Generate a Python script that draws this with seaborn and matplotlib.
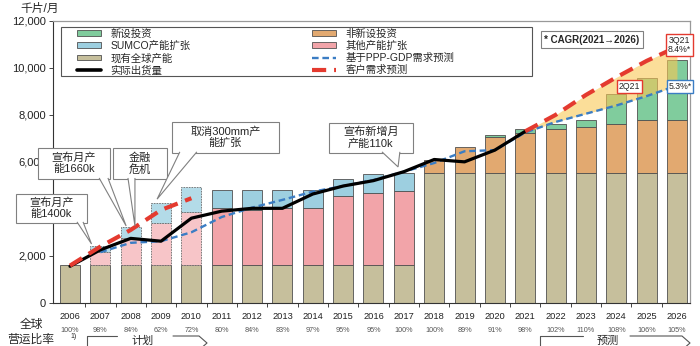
import matplotlib
matplotlib.use("Agg")
import matplotlib.pyplot as plt
from matplotlib.patches import Patch, Rectangle, Polygon
from matplotlib.lines import Line2D
import seaborn as sns

# ---------------- data ----------------
years = list(range(2006, 2027))
existing = [1600] * 12 + [5520] * 9                      # 现有全球产能

exp_years = list(range(2007, 2018))                      # 2007-2010 planned, 2011-2017 actual
other_exp = [570, 1140, 1780, 2280, 2420, 2360, 2420, 2420, 2960, 3090, 3150]   # 其他产能扩张
sumco_exp = [250, 470, 860, 1040, 780, 840, 780, 770, 690, 790, 780]            # SUMCO产能扩张
planned_n = 4

inv_years = list(range(2018, 2027))
non_new = [580, 1120, 1520, 1730, 1890, 1960, 2090, 2260, 2280]                 # 非新设投资
new_years = list(range(2020, 2027))
new_inv = [110, 160, 200, 300, 1260, 1810, 2530]                                # 新设投资

act_years = list(range(2006, 2022))
actual = [1550, 2250, 2740, 2620, 3600, 3900, 4020, 4020, 4630, 4970, 5200, 5580,
          6100, 6000, 6500, 7300]                                               # 实际出货量

ppp_years = list(range(2007, 2027))
ppp = [2150, 2550, 2620, 3000, 3650, 4050, 4380, 4730, 4970, 5230, 5580, 5950,
       6450, 6500, 7250, 7700, 8050, 8400, 8800, 9250]                          # 基于PPP-GDP需求预测

cust_years_a = list(range(2006, 2011))
cust_a = [1580, 2390, 3100, 3950, 4450]
cust_years_b = list(range(2021, 2027))
cust_b = [7300, 8000, 8850, 9600, 10300, 10900]                                 # 客户需求预测

op_ratio = ["100%", "98%", "84%", "62%", "72%", "80%", "84%", "83%", "97%", "95%",
            "95%", "100%", "100%", "89%", "91%", "98%", "102%", "110%", "108%",
            "106%", "105%"]

yticks = [0, 2000, 4000, 6000, 8000, 10000, 12000]
ytick_labels = ["0", "2,000", "4,000", "6,000", "8,000", "10,000", "12,000"]

# ---------------- style ----------------
sns.set_style("ticks")
plt.rcParams["font.family"] = ["Liberation Sans", "Noto Sans CJK SC", "DejaVu Sans"]

C_BEIGE = "#c6bf9c"
C_PINK = "#f2a4a9"
C_PINK_P = "#f7c5c8"
C_BLUE = "#9dcfe0"
C_BLUE_P = "#b3dbe8"
C_ORANGE = "#e2a970"
C_GREEN = "#80cc9d"
C_EDGE = "#505050"

W, H = 700, 346
fig = plt.figure(figsize=(7, 3.46), dpi=100)
ax = fig.add_axes([53 / W, 1 - 302.7 / H, 637 / W, 281.7 / H])


def bars(x, h, bottom, color, ls="-", ec=C_EDGE):
    sns.barplot(x=x, y=h, bottom=bottom, native_scale=True, orient="x", width=0.66,
                color=color, saturation=1, edgecolor=ec, linewidth=0.6,
                linestyle=ls, errorbar=None, ax=ax, zorder=2)


# existing capacity
bars(years, existing, [0] * len(years), C_BEIGE)
# other expansion & SUMCO expansion (planned part dashed, lighter)
base_exp = existing[1:12]
sumco_base = [b + o for b, o in zip(base_exp, other_exp)]
bars(exp_years[:planned_n], other_exp[:planned_n], base_exp[:planned_n], C_PINK_P, ls=(0, (2, 1.2)), ec="#6a6a6a")
bars(exp_years[:planned_n], sumco_exp[:planned_n], sumco_base[:planned_n], C_BLUE_P, ls=(0, (2, 1.2)), ec="#6a6a6a")
bars(exp_years[planned_n:], other_exp[planned_n:], base_exp[planned_n:], C_PINK)
bars(exp_years[planned_n:], sumco_exp[planned_n:], sumco_base[planned_n:], C_BLUE)
# investments
base_inv = existing[12:]
bars(inv_years, non_new, base_inv, C_ORANGE)
new_base = [b + n for b, n in zip(base_inv, non_new)][2:]
bars(new_years, new_inv, new_base, C_GREEN)

# forecast band
ppp_fc = ppp[ppp_years.index(2021):]
ax.fill_between(cust_years_b, ppp_fc, cust_b, color="#f9c855", alpha=0.6, lw=0, zorder=3)

# lines
sns.lineplot(x=ppp_years, y=ppp, color="#3b7dc4", linewidth=1.7, linestyle=(0, (2.8, 1.6)),
             errorbar=None, ax=ax, zorder=4, legend=False)
sns.lineplot(x=act_years, y=actual, color="black", linewidth=2.3, errorbar=None,
             ax=ax, zorder=5, legend=False)
for xs, ys in ((cust_years_a, cust_a), (cust_years_b, cust_b)):
    sns.lineplot(x=xs, y=ys, color="#e43a2f", linewidth=3.0, linestyle=(0, (3.4, 1.9)),
                 errorbar=None, ax=ax, zorder=6, legend=False)

# axes
ax.set_xlim(2005.44, 2026.43)
ax.set_ylim(0, 12000)
ax.set_yticks(yticks)
ax.set_yticklabels(ytick_labels, fontsize=8, color="#222")
# the 4,000 label is covered by a callout box in the original
for lab in ax.get_yticklabels():
    if lab.get_text() == "4,000":
        lab.set_visible(False)
ax.set_xticks(years)
ax.set_xticklabels([str(y) for y in years], fontsize=6.7, color="#222")
ax.set_xticks([y + 0.5 for y in years[:-1]], minor=True)
ax.tick_params(axis="x", which="major", length=0, pad=6.5)
ax.tick_params(axis="x", which="minor", length=3, width=0.7, color="#444", direction="out")
ax.tick_params(axis="y", length=3, width=0.7, color="#444", pad=2)
ax.set_xlabel("")
ax.set_ylabel("")
for s in ("left", "bottom"):
    ax.spines[s].set_color("#333")
    ax.spines[s].set_linewidth(0.8)
for s in ("top", "right"):
    ax.spines[s].set_visible(True)
    ax.spines[s].set_color("#999")
    ax.spines[s].set_linewidth(0.9)

# operating ratio row
trans = ax.get_xaxis_transform()
for y, r in zip(years, op_ratio):
    ax.text(y, -0.097, r, transform=trans, ha="center", va="center", fontsize=5.2,
            color="#555", clip_on=False)

# legend
handles = [
    Patch(facecolor=C_GREEN, edgecolor=C_EDGE, lw=0.6, label="新设投资"),
    Patch(facecolor=C_BLUE, edgecolor=C_EDGE, lw=0.6, label="SUMCO产能扩张"),
    Patch(facecolor=C_BEIGE, edgecolor=C_EDGE, lw=0.6, label="现有全球产能"),
    Line2D([], [], color="black", lw=2.6, label="实际出货量"),
    Patch(facecolor=C_ORANGE, edgecolor=C_EDGE, lw=0.6, label="非新设投资"),
    Patch(facecolor=C_PINK, edgecolor=C_EDGE, lw=0.6, label="其他产能扩张"),
    Line2D([], [], color="#3b7dc4", lw=1.7, ls=(0, (2.8, 1.6)), label="基于PPP-GDP需求预测"),
    Line2D([], [], color="#e43a2f", lw=3.0, ls=(0, (3.4, 1.9)), label="客户需求预测"),
]
ax.legend(handles=handles, ncol=2, loc="upper left", bbox_to_anchor=(77 / W, 1 - 28.5 / H),
          bbox_transform=fig.transFigure, frameon=False, fontsize=7.5, borderpad=0,
          handlelength=2.3, handleheight=0.45, handletextpad=0.9, columnspacing=11.7,
          labelspacing=0.2, borderaxespad=0)
fig.add_artist(Rectangle((61 / W, 1 - 76 / H), (532 - 61) / W, (76 - 27) / H,
                         transform=fig.transFigure, fill=False, ec="#555", lw=0.8))


# callouts
def callout(text, box, base, tip):
    x0, x1, y0, y1 = box
    ax.add_patch(Rectangle((x0, y0), x1 - x0, y1 - y0, facecolor="white", edgecolor="#808080",
                           lw=0.8, zorder=7, clip_on=False))
    eps = 45
    ax.add_patch(Polygon([(base[0], y0 + eps), tip, (base[1], y0 + eps)], closed=False,
                         facecolor="white", edgecolor="#808080", lw=0.8, zorder=7.5, clip_on=False))
    ax.text((x0 + x1) / 2, (y0 + y1) / 2, text, ha="center", va="center", fontsize=8,
            linespacing=1.15, zorder=8, clip_on=False)


callout("宣布月产\n能1400k", (2004.22, 2006.56, 3397, 4633), (2006.23, 2006.43), (2006.71, 2500))
callout("宣布月产\n能1660k", (2004.95, 2007.32, 5269, 6590), (2006.96, 2007.25), (2007.85, 3270))
callout("金融\n危机", (2007.42, 2009.20, 5269, 6590), (2007.91, 2008.14), (2008.14, 3270))
callout("取消300mm产\n能扩张", (2009.36, 2012.88, 6381, 7703), (2009.62, 2010.18), (2008.87, 4412))
callout("宣布新增月\n产能110k", (2014.53, 2017.30, 6381, 7660), (2016.28, 2016.87), (2016.81, 5784))

# forecast labels
ax.text(2023.2, 11198, "* CAGR(2021→2026)", ha="center", va="center", fontsize=7,
        fontweight="bold", zorder=8,
        bbox=dict(boxstyle="square,pad=0.35", fc="white", ec="#808080", lw=0.8))
ax.text(2024.43, 9216, "2Q21", ha="center", va="center", fontsize=6.3, zorder=8,
        bbox=dict(boxstyle="square,pad=0.2", fc="white", ec="#e43a2f", lw=1.0))
ax.text(2026.08, 10985, "3Q21\n8.4%*", ha="center", va="center", fontsize=6.3, zorder=8,
        linespacing=1.05, clip_on=False,
        bbox=dict(boxstyle="square,pad=0.2", fc="white", ec="#e43a2f", lw=1.0))
ax.text(2026.1, 9216, "5.3%*", ha="center", va="center", fontsize=6.3, zorder=8, clip_on=False,
        bbox=dict(boxstyle="square,pad=0.2", fc="white", ec="#3b7dc4", lw=1.0))

# outer texts
def fx(px):
    return px / W


def fy(py):
    return 1 - py / H


fig.text(fx(39.5), fy(9), "千片/月", ha="center", va="center", fontsize=8.5)
fig.text(fx(31), fy(325), "全球", ha="center", va="center", fontsize=8.5)
fig.text(fx(31), fy(340), "营运比率", ha="center", va="center", fontsize=8.5)
fig.text(fx(74), fy(337), "1)", ha="center", va="center", fontsize=5)


def arrow_label(text, x0, g0, g1, x1, tx):
    top, bot, mid = 336, 350, 343
    segs = [[(x0, bot), (x0, top), (g0, top)],
            [(g1, top), (x1 - 8, top), (x1, mid), (x1 - 8, bot)]]
    for seg in segs:
        fig.add_artist(Line2D([fx(p[0]) for p in seg], [fy(p[1]) for p in seg],
                              color="#555", lw=0.8))
    fig.text(fx(tx), fy(341), text, ha="center", va="center", fontsize=8)


arrow_label("计划", 87, 117, 173, 207, 143)
arrow_label("预测", 540, 583, 630, 690, 608)

fig.savefig("out.png", dpi=100)
